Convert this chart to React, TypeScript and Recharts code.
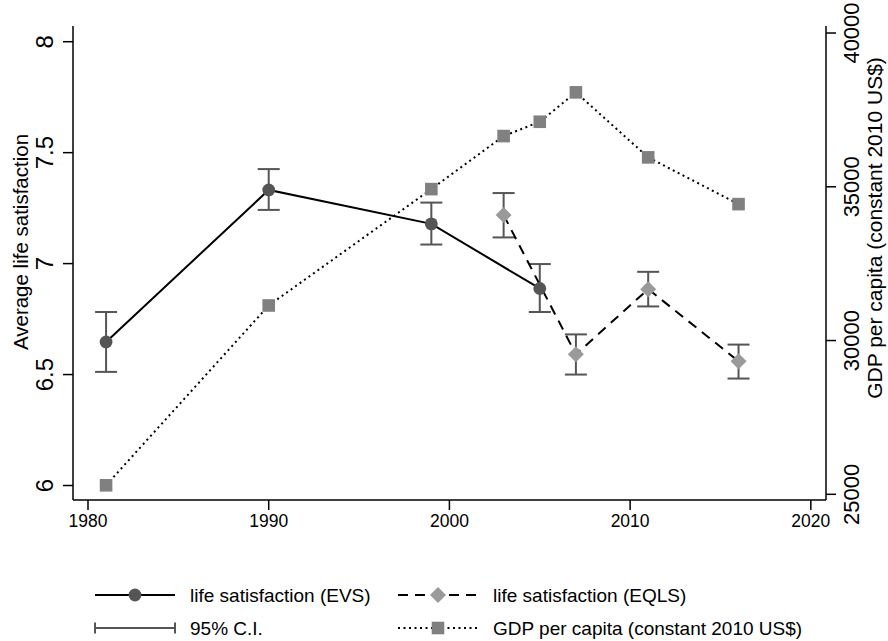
import React from 'react';
import { ComposedChart, Line, XAxis, YAxis, ErrorBar } from 'recharts';

const evsYears = [1981, 1990, 1999, 2005];
const evsValues = [6.647, 7.332, 7.179, 6.888];
const evsLow = [6.512, 7.242, 7.086, 6.782];
const evsHigh = [6.782, 7.426, 7.275, 6.998];

const eqlsYears = [2003, 2007, 2011, 2016];
const eqlsValues = [7.219, 6.591, 6.885, 6.56];
const eqlsLow = [7.118, 6.5, 6.807, 6.482];
const eqlsHigh = [7.318, 6.681, 6.963, 6.635];

const gdpYears = [1981, 1990, 1999, 2003, 2005, 2007, 2011, 2016];
const gdpValues = [25293, 31140, 34924, 36649, 37114, 38070, 35956, 34436];

const xTicks = [1980, 1990, 2000, 2010, 2020];
const leftTicks = [6, 6.5, 7, 7.5, 8];
const rightTicks = [25000, 30000, 35000, 40000];

const leftTitle = 'Average life satisfaction';
const rightTitle = 'GDP per capita (constant 2010 US$)';
const legendLabels = [
  'life satisfaction (EVS)',
  'life satisfaction (EQLS)',
  '95% C.I.',
  'GDP per capita (constant 2010 US$)',
];

const FONT = '"Liberation Sans", Arial, Helvetica, sans-serif';
const EVS_DOT = '#555555';
const EQLS_DOT = '#9a9a9a';
const GDP_DOT = '#808080';
const CI_COLOR = '#555555';

const evsData = evsYears.map((year, i) => ({
  year,
  value: evsValues[i],
  err: [evsValues[i] - evsLow[i], evsHigh[i] - evsValues[i]],
}));
const eqlsData = eqlsYears.map((year, i) => ({
  year,
  value: eqlsValues[i],
  err: [eqlsValues[i] - eqlsLow[i], eqlsHigh[i] - eqlsValues[i]],
}));
const gdpData = gdpYears.map((year, i) => ({ year, value: gdpValues[i] }));

const LeftTick = (props: any) => {
  const { x, y, payload } = props;
  return (
    <text
      transform={`translate(${x - 19},${y}) rotate(-90)`}
      textAnchor="middle"
      dominantBaseline="central"
      fontSize={24}
      fontFamily={FONT}
      fill="#000"
    >
      {String(payload.value)}
    </text>
  );
};

const RightTick = (props: any) => {
  const { x, y, payload } = props;
  return (
    <text
      transform={`translate(${x + 15},${y}) rotate(-90)`}
      textAnchor="middle"
      dominantBaseline="central"
      fontSize={22}
      fontFamily={FONT}
      fill="#000"
    >
      {String(payload.value)}
    </text>
  );
};

const BottomTick = (props: any) => {
  const { x, y, payload } = props;
  return (
    <text x={x} y={y} dy="0.71em" textAnchor="middle" fontSize={17.5} fontFamily={FONT} fill="#000">
      {String(payload.value)}
    </text>
  );
};

const Diamond = (props: any) => {
  const { cx, cy, index } = props;
  if (cx == null || cy == null) return <g key={`d${index}`} />;
  const r = 8;
  return (
    <path
      key={`d${index}`}
      d={`M${cx},${cy - r} L${cx + r},${cy} L${cx},${cy + r} L${cx - r},${cy} Z`}
      fill={EQLS_DOT}
      stroke="none"
    />
  );
};

const Square = (props: any) => {
  const { cx, cy, index } = props;
  if (cx == null || cy == null) return <g key={`s${index}`} />;
  const h = 6.3;
  return <rect key={`s${index}`} x={cx - h} y={cy - h} width={2 * h} height={2 * h} fill={GDP_DOT} stroke="none" />;
};

const Circle = (props: any) => {
  const { cx, cy, index } = props;
  if (cx == null || cy == null) return <g key={`c${index}`} />;
  return <circle key={`c${index}`} cx={cx} cy={cy} r={6.4} fill={EVS_DOT} stroke="none" />;
};

const LegendOverlay = () => {
  const row1 = 595;
  const row2 = 628;
  const c1s = 95;
  const c1e = 175;
  const c1t = 190;
  const c2s = 398;
  const c2e = 478;
  const c2t = 493;
  const fs = 19;
  const m1 = (c1s + c1e) / 2;
  const m2 = (c2s + c2e) / 2;
  return (
    <svg width={888} height={641} style={{ position: 'absolute', left: 0, top: 0, pointerEvents: 'none' }}>
      <line x1={c1s} y1={row1} x2={c1e} y2={row1} stroke="#000" strokeWidth={2} />
      <circle cx={m1} cy={row1} r={6.4} fill={EVS_DOT} />
      <text x={c1t} y={row1} dominantBaseline="central" fontSize={fs} fontFamily={FONT} fill="#000">
        {legendLabels[0]}
      </text>
      <line x1={c2s} y1={row1} x2={c2e} y2={row1} stroke="#000" strokeWidth={2} strokeDasharray="10 7" />
      <path d={`M${m2},${row1 - 8} L${m2 + 8},${row1} L${m2},${row1 + 8} L${m2 - 8},${row1} Z`} fill={EQLS_DOT} />
      <text x={c2t} y={row1} dominantBaseline="central" fontSize={fs} fontFamily={FONT} fill="#000">
        {legendLabels[1]}
      </text>
      <line x1={c1s} y1={row2} x2={c1e} y2={row2} stroke={CI_COLOR} strokeWidth={2} />
      <line x1={c1s} y1={row2 - 5.5} x2={c1s} y2={row2 + 5.5} stroke={CI_COLOR} strokeWidth={2} />
      <line x1={c1e} y1={row2 - 5.5} x2={c1e} y2={row2 + 5.5} stroke={CI_COLOR} strokeWidth={2} />
      <text x={c1t} y={row2} dominantBaseline="central" fontSize={fs} fontFamily={FONT} fill="#000">
        {legendLabels[2]}
      </text>
      <line x1={c2s} y1={row2} x2={c2e} y2={row2} stroke="#000" strokeWidth={2} strokeDasharray="2 3.5" />
      <rect x={m2 - 6.3} y={row2 - 6.3} width={12.6} height={12.6} fill={GDP_DOT} />
      <text x={c2t} y={row2} dominantBaseline="central" fontSize={fs} fontFamily={FONT} fill="#000">
        {legendLabels[3]}
      </text>
    </svg>
  );
};

const axisStyle = { stroke: '#000', strokeWidth: 1.5 };

export default function App() {
  return (
    <div style={{ position: 'absolute', left: 0, top: 0, width: 888, height: 641, background: '#fff' }}>
      <ComposedChart width={888} height={641} margin={{ top: 26, right: 0, bottom: 111, left: 0 }}>
        <XAxis
          type="number"
          dataKey="year"
          domain={[1979.17, 2020.84]}
          ticks={xTicks}
          allowDataOverflow
          height={30}
          tickSize={10}
          tickMargin={5}
          axisLine={axisStyle}
          tickLine={axisStyle}
          tick={<BottomTick />}
        />
        <YAxis
          yAxisId="left"
          type="number"
          domain={[5.9347, 8.0708]}
          ticks={leftTicks}
          allowDataOverflow
          width={73}
          tickSize={10}
          tickMargin={0}
          axisLine={axisStyle}
          tickLine={axisStyle}
          tick={<LeftTick />}
          label={{
            content: () => (
              <text
                transform={`translate(20,242) rotate(-90)`}
                textAnchor="middle"
                dominantBaseline="central"
                fontSize={20.5}
                fontFamily={FONT}
                fill="#000"
              >
                {leftTitle}
              </text>
            ),
          }}
        />
        <YAxis
          yAxisId="right"
          orientation="right"
          type="number"
          domain={[24815, 40228]}
          ticks={rightTicks}
          allowDataOverflow
          width={62}
          tickSize={10}
          tickMargin={0}
          axisLine={axisStyle}
          tickLine={axisStyle}
          tick={<RightTick />}
          label={{
            content: () => (
              <text
                transform={`translate(874,228) rotate(-90)`}
                textAnchor="middle"
                dominantBaseline="central"
                fontSize={21}
                fontFamily={FONT}
                fill="#000"
              >
                {rightTitle}
              </text>
            ),
          }}
        />
        <Line
          yAxisId="right"
          data={gdpData}
          dataKey="value"
          stroke="#000"
          strokeWidth={2}
          strokeDasharray="2 3.5"
          dot={<Square />}
          activeDot={false}
          isAnimationActive={false}
        />
        <Line
          yAxisId="left"
          data={evsData}
          dataKey="value"
          stroke="#000"
          strokeWidth={2}
          dot={<Circle />}
          activeDot={false}
          isAnimationActive={false}
        >
          <ErrorBar dataKey="err" width={11} stroke={CI_COLOR} strokeWidth={2} direction="y" isAnimationActive={false} />
        </Line>
        <Line
          yAxisId="left"
          data={eqlsData}
          dataKey="value"
          stroke="#000"
          strokeWidth={2}
          strokeDasharray="10 7"
          dot={<Diamond />}
          activeDot={false}
          isAnimationActive={false}
        >
          <ErrorBar dataKey="err" width={11} stroke={CI_COLOR} strokeWidth={2} direction="y" isAnimationActive={false} />
        </Line>
      </ComposedChart>
      <LegendOverlay />
    </div>
  );
}
